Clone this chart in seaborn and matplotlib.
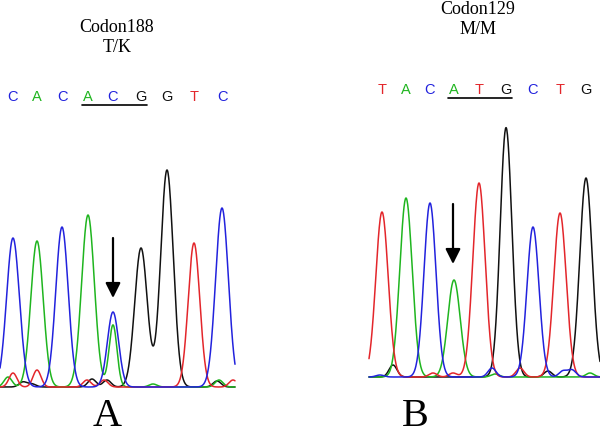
import numpy as np
import pandas as pd
import matplotlib
matplotlib.use("Agg")
import matplotlib.pyplot as plt
import seaborn as sns

# base colours used by the sequencer software
base_colors = {"A": "#1fb51f", "C": "#2222dd", "G": "#111111", "T": "#e3262b"}

# ---- panel A : codon 188 (T/K) ----
a_title = ["Codon188", "T/K"]
a_seq = ["C", "A", "C", "A", "C", "G", "G", "T", "C"]
a_pos = [13, 37, 62, 88, 113, 141, 167, 194, 222]
a_height = [149, 146, 160, 172, 75, 139, 217, 144, 179]
a_width = [6.4, 6.2, 6.2, 6.4, 5.6, 6.3, 6.3, 5.8, 6.4]
# secondary / background peaks
a_minor_base = ["A", "T", "G", "G", "T", "T", "T", "G", "G", "A", "A", "G", "A", "T"]
a_minor_pos = [8, 13, 23, 32, 37, 87, 104, 92, 107, 113, 153, 217, 219, 233]
a_minor_height = [10, 14, 5, 3, 17, 7, 7, 8, 7, 62, 3, 6, 7, 7]
a_range = (0, 235)
a_codon = (3, 5)
a_arrow = 113

# ---- panel B : codon 129 (M/M) ----
b_title = ["Codon129", "M/M"]
b_seq = ["T", "A", "C", "A", "T", "G", "C", "T", "G"]
b_pos = [17, 41, 65, 89, 114, 141, 168, 195, 221]
b_height = [165, 179, 174, 97, 194, 249, 150, 164, 199]
b_width = [6.2, 6.2, 6.0, 6.2, 6.2, 5.8, 6.0, 6.2, 6.2]
b_minor_base = ["G", "C", "T", "T", "C", "T", "G", "G", "C", "C", "A", "A"]
b_minor_pos = [28, 15, 68, 88, 127, 155, 150, 183, 198, 207, 225, 130]
b_minor_height = [12, 2, 4, 4, 9, 9, 5, 6, 6, 7, 4, 3]
b_range = (4, 235)
b_codon = (3, 5)
b_arrow = 88


def trace_frame(pos, height, width, seq, mpos, mheight, mbase, xr):
    x = np.linspace(xr[0], xr[1], 700)
    frames = []
    for b in "ACGT":
        y = np.zeros_like(x)
        for p, h, w, s in zip(pos, height, width, seq):
            if s == b:
                y += h * np.exp(-(x - p) ** 2 / (2 * w ** 2))
        for p, h, s in zip(mpos, mheight, mbase):
            if s == b:
                y += h * np.exp(-(x - p) ** 2 / (2 * 4.0 ** 2))
        frames.append(pd.DataFrame({"scan": x, "signal": y, "base": b}))
    return pd.concat(frames, ignore_index=True)


sns.set_style("white")
fig = plt.figure(figsize=(6, 4.34), dpi=100)

W, H = 600, 434


def panel(rect_px, ylim, df, seq, pos, title, title_x, title_y, seq_y, codon,
          arrow_x, arrow_top, label, label_xy):
    l, t, w, h = rect_px
    ax = fig.add_axes([l / W, 1 - (t + h) / H, w / W, h / H])
    sns.lineplot(data=df, x="scan", y="signal", hue="base", palette=base_colors,
                 hue_order=["G", "A", "T", "C"], estimator=None, sort=False,
                 linewidth=1.1, legend=False, ax=ax)
    ax.set_xlim(0, w)
    ax.set_ylim(*ylim)
    ax.axis("off")
    tr = matplotlib.transforms.blended_transform_factory(ax.transData, fig.transFigure)
    for i, s in enumerate(title):
        fig.text(title_x, 1 - title_y[i] / H, s, transform=tr, ha="center",
                 va="center", fontsize=13, family="Liberation Serif", color="black")
    for p, s in zip(pos, seq):
        fig.text(p, 1 - seq_y / H, s, transform=tr, ha="center", va="center",
                 fontsize=10.5, family="Liberation Sans", color=base_colors[s])
    uy = 1 - (seq_y + 8) / H
    ax.plot([pos[codon[0]] - 6, pos[codon[1]] + 6], [uy, uy], color="black",
            linewidth=1.2, transform=tr, clip_on=False)
    ax.annotate("", xy=(arrow_x, arrow_top - 60), xytext=(arrow_x, arrow_top),
                arrowprops=dict(arrowstyle="-|>,head_width=0.45,head_length=0.9",
                                color="black", linewidth=1.6, shrinkA=0, shrinkB=0))
    fig.text(label_xy[0] / W, 1 - label_xy[1] / H, label, ha="center", va="center",
             fontsize=29, family="Liberation Serif", color="black")
    return ax


dfa = trace_frame(a_pos, a_height, a_width, a_seq, a_minor_pos, a_minor_height,
                  a_minor_base, a_range)
dfb = trace_frame(b_pos, b_height, b_width, b_seq, b_minor_pos, b_minor_height,
                  b_minor_base, b_range)

panel((0, 155, 240, 237), (-5, 232), dfa, a_seq, a_pos, a_title, 117, [27, 47], 97,
      a_codon, a_arrow, 149, "A", (107, 417))
panel((365, 120, 235, 262), (-5, 257), dfb, b_seq, b_pos, b_title, 113, [9, 29], 90,
      b_codon, b_arrow, 173, "B", (415, 416))

fig.savefig("out.png", dpi=100)
